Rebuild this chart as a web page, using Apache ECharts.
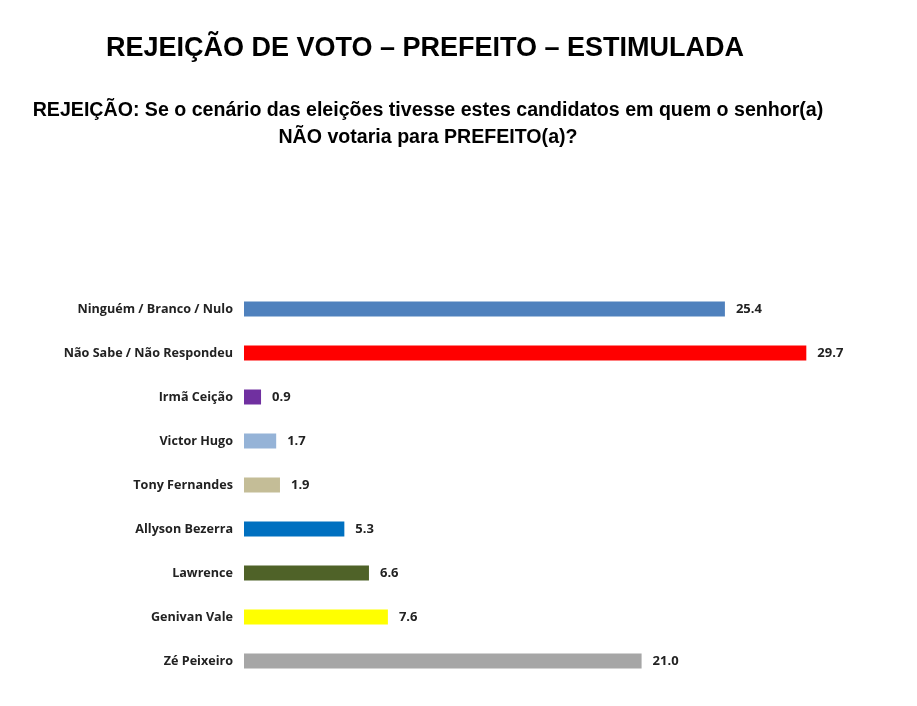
<!DOCTYPE html>
<html>
<head>
<meta charset="utf-8">
<script src="https://cdn.jsdelivr.net/npm/echarts@6/dist/echarts.min.js"></script>
<style>
  html, body { margin: 0; padding: 0; background: #fff; }
  #chart { width: 917px; height: 706px; }
</style>
</head>
<body>
<div id="chart"></div>
<script>
// categories top to bottom
const categories = [
  'Ninguém / Branco / Nulo',
  'Não Sabe / Não Respondeu',
  'Irmã Ceição',
  'Victor Hugo',
  'Tony Fernandes',
  'Allyson Bezerra',
  'Lawrence',
  'Genivan Vale',
  'Zé Peixeiro'
];
const values = [25.4, 29.7, 0.9, 1.7, 1.9, 5.3, 6.6, 7.6, 21.0];
const barColors = ['#4F81BD', '#FF0000', '#7030A0', '#95B3D7', '#C4BD97', '#0070C0', '#4F6228', '#FFFF00', '#A6A6A6'];

const narrow = '"Liberation Sans Narrow", "Liberation Sans", Arial, sans-serif';

const myChart = echarts.init(document.getElementById('chart'));
myChart.setOption({
  animation: false,
  title: [
    {
      text: 'REJEIÇÃO DE VOTO – PREFEITO – ESTIMULADA',
      left: 420, top: 30, textAlign: 'center',
      textStyle: { fontFamily: narrow, fontSize: 27, fontWeight: 'bold', color: '#000' }
    },
    {
      text: 'REJEIÇÃO: Se o cenário das eleições tivesse estes candidatos em quem o senhor(a)\nNÃO votaria para PREFEITO(a)?',
      left: 423, top: 92, textAlign: 'center',
      textStyle: { fontFamily: narrow, fontSize: 19.6, fontWeight: 'bold', color: '#000', lineHeight: 27, align: 'center' }
    }
  ],
  grid: { left: 244, right: 105, top: 287, bottom: 23 },
  xAxis: {
    type: 'value', min: 0, max: 30, show: false
  },
  yAxis: {
    type: 'category',
    inverse: true,
    data: categories,
    axisLine: { show: false },
    axisTick: { show: false },
    axisLabel: {
      margin: 11,
      fontFamily: '"Open Sans", "Noto Sans", sans-serif',
      fontSize: 12.6, fontWeight: 'bold', color: '#222'
    }
  },
  series: [{
    type: 'bar',
    barWidth: 15,
    data: values.map((v, i) => ({ value: v, itemStyle: { color: barColors[i] } })),
    label: {
      show: true, position: 'right', distance: 11,
      formatter: p => p.value.toFixed(1),
      fontFamily: '"Open Sans", "Noto Sans", sans-serif',
      fontSize: 13, fontWeight: 'bold', color: '#222'
    }
  }]
});
</script>
</body>
</html>
